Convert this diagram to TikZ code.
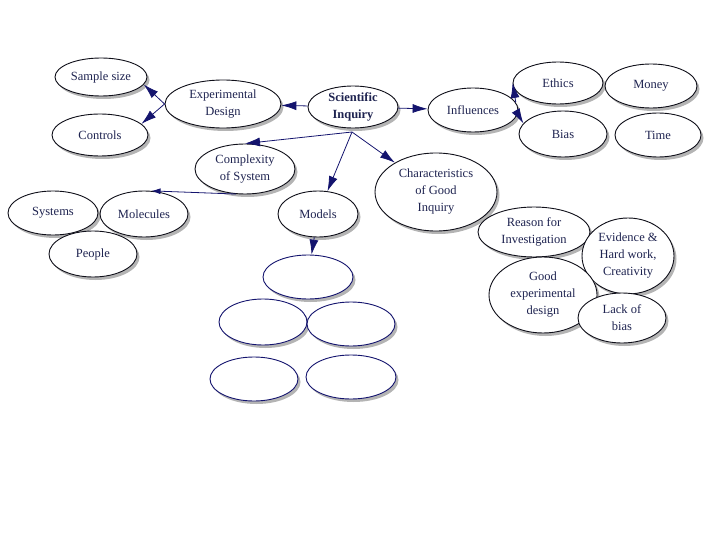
\documentclass[tikz,border=0pt]{standalone}
\usepackage{fontspec}
\setmainfont{Liberation Serif}
\usetikzlibrary{shapes.geometric,shadows,arrows.meta}
\definecolor{navy}{RGB}{20,20,110}
\definecolor{txt}{RGB}{30,35,80}
\definecolor{edgeblk}{RGB}{15,15,25}
\tikzset{
  bub/.style={ellipse,draw=edgeblk,line width=0.9pt,fill=white,inner sep=0pt,
    drop shadow={shadow xshift=2.5pt,shadow yshift=-3pt,fill=gray!65,opacity=0.9},
    font=\fontsize{12.5}{17}\selectfont,text=txt,align=center},
  blank/.style={bub,draw=navy},
  arr/.style={draw=navy,line width=0.8pt,-{Latex[length=15pt,width=9pt]}},
  sarr/.style={draw=navy,line width=0.8pt,-{Latex[length=9pt,width=6pt]}}
}
\begin{document}
\begin{tikzpicture}[x=1pt,y=-1pt]
\useasboundingbox (0,0) rectangle (720,540);
% top row
\node[bub,minimum width=92pt,minimum height=38pt] (ss) at (101,77) {Sample size};
\node[bub,minimum width=96pt,minimum height=42pt] (ct) at (100,135) {Controls};
\node[bub,minimum width=116pt,minimum height=48pt] (ed) at (223,104) {Experimental\\Design};
\node[bub,minimum width=90pt,minimum height=42pt] (si) at (353,107) {\textbf{Scientific}\\\textbf{Inquiry}};
\node[bub,minimum width=90pt,minimum height=44pt] (inf) at (473,110) {Influences};
\node[bub,minimum width=90pt,minimum height=42pt] (eth) at (558,83) {Ethics};
\node[bub,minimum width=92pt,minimum height=44pt] (mon) at (651,86) {Money};
\node[bub,minimum width=88pt,minimum height=46pt] (bia) at (563,134) {Bias};
\node[bub,minimum width=86pt,minimum height=44pt] (tim) at (658,135) {Time};
% middle
\node[bub,minimum width=100pt,minimum height=50pt] (cx) at (245,169) {Complexity\\of System};
\node[bub,minimum width=90pt,minimum height=44pt] (sys) at (53,213) {Systems};
\node[bub,minimum width=88pt,minimum height=46pt] (mol) at (144,214) {Molecules};
\node[bub,minimum width=88pt,minimum height=46pt] (peo) at (93,254) {People};
\node[bub,minimum width=80pt,minimum height=46pt] (mod) at (318,214) {Models};
\node[bub,minimum width=122pt,minimum height=78pt] (chr) at (436,192) {Characteristics\\of Good\\Inquiry};
% right cluster
\node[bub,minimum width=112pt,minimum height=50pt] (rea) at (534,232) {Reason for\\Investigation};
\node[bub,minimum width=92pt,minimum height=76pt] (evi) at (628,256) {Evidence \&\\Hard work,\\Creativity};
\node[bub,minimum width=108pt,minimum height=76pt] (gex) at (543,295) {Good\\experimental\\design};
\node[bub,minimum width=88pt,minimum height=50pt] (lob) at (622,318) {Lack of\\bias};
% blank ellipses
\node[blank,minimum width=90pt,minimum height=44pt] (b1) at (308,277) {};
\node[blank,minimum width=88pt,minimum height=46pt] (b2) at (263,322) {};
\node[blank,minimum width=88pt,minimum height=44pt] (b3) at (351,324) {};
\node[blank,minimum width=88pt,minimum height=44pt] (b4) at (254,379) {};
\node[blank,minimum width=90pt,minimum height=44pt] (b5) at (351,377) {};
% connectors
\coordinate (j) at (352,132);
\draw[arr] (si) -- (ed);
\draw[arr] (ed.west) -- (ss.-10);
\draw[arr] (ed.west) -- (ct.15);
\draw[arr] (si) -- (inf);
\draw[arr] (inf.10) -- (eth.west);
\draw[arr] (inf.-5) -- (bia.165);
\draw[arr] (j) -- (cx.north);
\draw[arr] (j) -- (mod);
\draw[arr] (j) -- (chr);
\draw[sarr] (cx.250) -- (mol.72);
\draw[arr] (mod) -- (b1);
\end{tikzpicture}
\end{document}
